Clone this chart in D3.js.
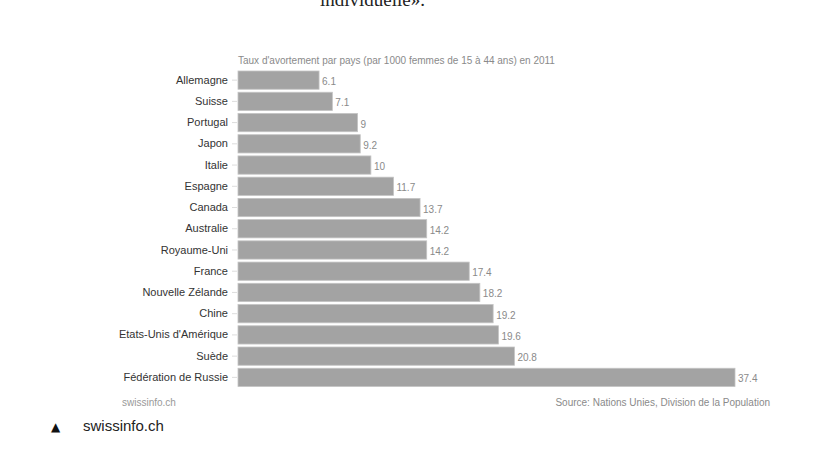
<!DOCTYPE html>
<html>
<head>
<meta charset="utf-8">
<script src="https://cdn.jsdelivr.net/npm/d3@7"></script>
<style>
  html, body { margin: 0; padding: 0; background: #fff; }
  svg { display: block; }
</style>
</head>
<body>
<svg id="chart" width="828" height="450"></svg>
<script>
const countries = ["Allemagne", "Suisse", "Portugal", "Japon", "Italie", "Espagne", "Canada", "Australie", "Royaume-Uni", "France", "Nouvelle Zélande", "Chine", "Etats-Unis d'Amérique", "Suède", "Fédération de Russie"];
const rates = [6.1, 7.1, 9, 9.2, 10, 11.7, 13.7, 14.2, 14.2, 17.4, 18.2, 19.2, 19.6, 20.8, 37.4];
const chartTitle = "Taux d'avortement par pays (par 1000 femmes de 15 à 44 ans) en 2011";
const sourceText = "Source: Nations Unies, Division de la Population";
const creditText = "swissinfo.ch";
const captionText = "swissinfo.ch";
const topText = "individuelle».";

const svg = d3.select("#chart");
const data = countries.map((c, i) => ({ country: c, value: rates[i] }));

const x = d3.scaleLinear().domain([0, 37.4]).range([238, 735]);
const y = d3.scaleBand().domain(countries).range([71, 386.5]).paddingInner(0.14).paddingOuter(0);

// top cut-off article text
svg.append("text")
  .attr("x", 320).attr("y", 6)
  .attr("font-family", "Liberation Serif, DejaVu Serif, serif")
  .attr("font-size", 19)
  .attr("fill", "#222")
  .text(topText);

// title
svg.append("text")
  .attr("x", 238).attr("y", 64)
  .attr("font-family", "Liberation Sans, Arial, sans-serif")
  .attr("font-size", 10)
  .attr("fill", "#8a8a8a")
  .text(chartTitle);

// axis
const axis = d3.axisLeft(y).tickSize(5).tickPadding(4);
const gAxis = svg.append("g").attr("transform", "translate(237,0)").call(axis);
gAxis.select(".domain").remove();
gAxis.selectAll(".tick line").attr("stroke", "#ddd");
gAxis.selectAll(".tick text")
  .attr("font-family", "Liberation Sans, Arial, sans-serif")
  .attr("font-size", 11)
  .attr("fill", "#333");

// bars
svg.append("g").selectAll("rect")
  .data(data).join("rect")
  .attr("x", x(0))
  .attr("y", d => y(d.country))
  .attr("width", d => x(d.value) - x(0))
  .attr("height", y.bandwidth())
  .attr("fill", "#a3a3a3")
  .attr("stroke", "#c4c4c4")
  .attr("stroke-width", 0.8);

// value labels
svg.append("g").selectAll("text")
  .data(data).join("text")
  .attr("x", d => x(d.value) + 3)
  .attr("y", d => y(d.country) + y.bandwidth() / 2 + 5)
  .attr("font-family", "Liberation Sans, Arial, sans-serif")
  .attr("font-size", 10)
  .attr("fill", "#8a8a8a")
  .text(d => d.value);

// footer
svg.append("text")
  .attr("x", 122).attr("y", 406)
  .attr("font-family", "Liberation Sans, Arial, sans-serif")
  .attr("font-size", 10)
  .attr("fill", "#999")
  .text(creditText);

svg.append("text")
  .attr("x", 770).attr("y", 406)
  .attr("text-anchor", "end")
  .attr("font-family", "Liberation Sans, Arial, sans-serif")
  .attr("font-size", 10)
  .attr("fill", "#8a8a8a")
  .text(sourceText);

// caption below
svg.append("text")
  .attr("x", 51).attr("y", 431)
  .attr("font-family", "DejaVu Sans, sans-serif")
  .attr("font-size", 12)
  .attr("fill", "#111")
  .text("▲");

svg.append("text")
  .attr("x", 83).attr("y", 431)
  .attr("font-family", "Liberation Sans, Arial, sans-serif")
  .attr("font-size", 15)
  .attr("fill", "#222")
  .text(captionText);
</script>
</body>
</html>
